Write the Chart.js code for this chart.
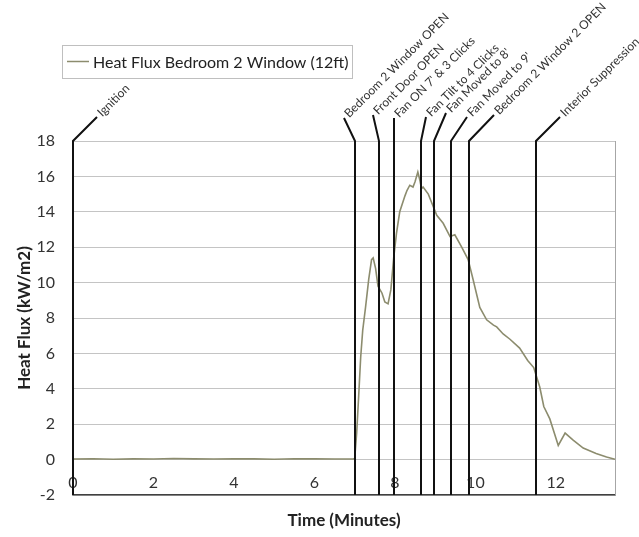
<!DOCTYPE html>
<html>
<head>
<meta charset="utf-8">
<script src="https://cdn.jsdelivr.net/npm/chart.js@4/dist/chart.umd.min.js"></script>
<style>
html,body{margin:0;padding:0;background:#fff;}
#wrap{width:639px;height:537px;position:relative;}
</style>
</head>
<body>
<div id="wrap"><canvas id="c" width="639" height="537"></canvas></div>
<script>
// ---- data ----
const timeMin = [0, 0.5, 1, 1.5, 2, 2.5, 3, 3.5, 4, 4.5, 5, 5.5, 6, 6.5, 6.97,
  7.0, 7.05, 7.1, 7.15, 7.2, 7.27, 7.35, 7.42, 7.46, 7.52, 7.58, 7.68, 7.75, 7.83,
  7.9, 7.97, 8.04, 8.12, 8.25, 8.3, 8.37, 8.45, 8.5, 8.57, 8.62, 8.66, 8.7, 8.83,
  8.9, 9.04, 9.2, 9.37, 9.49, 9.66, 9.82, 9.94, 10.11, 10.28, 10.45, 10.53, 10.69,
  10.86, 11.1, 11.3, 11.45, 11.6, 11.7, 11.85, 12.06, 12.23, 12.43, 12.68, 13.0, 13.26, 13.47];
const heatFlux = [0.03, 0.05, 0.02, 0.04, 0.03, 0.06, 0.04, 0.03, 0.05, 0.04, 0.02, 0.05, 0.04, 0.03, 0.04,
  0.05, 1.5, 3.6, 5.8, 7.3, 8.6, 10.2, 11.3, 11.4, 10.8, 9.8, 9.4, 8.9, 8.8,
  9.6, 11.4, 12.8, 14.0, 14.9, 15.2, 15.5, 15.4, 15.7, 16.25, 15.8, 15.3, 15.4, 15.0,
  14.6, 13.8, 13.35, 12.6, 12.7, 12.0, 11.3, 10.2, 8.6, 7.9, 7.6, 7.5, 7.1,
  6.8, 6.3, 5.6, 5.2, 4.1, 3.0, 2.3, 0.8, 1.5, 1.1, 0.65, 0.35, 0.15, 0.02];
const eventTimes = [0, 7.0, 7.61, 7.98, 8.66, 8.98, 9.39, 9.85, 11.5];
const eventLabels = ['Ignition', 'Bedroom 2 Window OPEN', 'Front Door OPEN', "Fan ON 7' & 3 Clicks",
  'Fan Tilt to 4 Clicks', "Fan Moved to 8'", "Fan Moved to 9'", 'Bedroom 2 Window 2 OPEN', 'Interior Suppression'];
const xTickValues = [0, 2, 4, 6, 8, 10, 12];
const yTickValues = [-2, 0, 2, 4, 6, 8, 10, 12, 14, 16, 18];
const seriesName = 'Heat Flux Bedroom 2 Window (12ft)';
const xTitle = 'Time (Minutes)';
const yTitle = 'Heat Flux (kW/m2)';

const FONT = 'Lato, "Open Sans", sans-serif';

const points = timeMin.map((t, i) => ({x: t, y: heatFlux[i]}));

const eventPlugin = {
  id: 'events',
  beforeDatasetsDraw(chart) {
    const {ctx, chartArea: a} = chart;
    ctx.save();
    ctx.strokeStyle = '#a6a6a6';
    ctx.lineWidth = 1;
    ctx.beginPath();
    ctx.moveTo(a.right + 0.5, a.top);
    ctx.lineTo(a.right + 0.5, a.bottom);
    ctx.stroke();
    ctx.restore();
  },
  afterDatasetsDraw(chart, args, opts) {
    const {ctx, chartArea: a, scales: {x}} = chart;
    ctx.save();
    ctx.strokeStyle = '#111';
    ctx.lineWidth = 2;
    ctx.fillStyle = '#333';
    ctx.font = '12px ' + FONT;
    eventTimes.forEach((t, i) => {
      const px = Math.round(x.getPixelForValue(t));
      const off = opts.leaders[i];
      const ax = px + off[0], ay = a.top + off[1];
      ctx.beginPath();
      ctx.moveTo(px, a.bottom);
      ctx.lineTo(px, a.top);
      ctx.lineTo(ax, ay);
      ctx.stroke();
      ctx.save();
      ctx.translate(ax + 1, ay - 1);
      ctx.rotate(-Math.PI / 4);
      ctx.textAlign = 'left';
      ctx.textBaseline = 'middle';
      ctx.fillText(eventLabels[i], 2, 0);
      ctx.restore();
    });
    ctx.restore();
  },
  afterDraw(chart, args, opts) {
    const {ctx} = chart;
    const ds = chart.data.datasets[0];
    const L = opts.legend;
    ctx.save();
    ctx.strokeStyle = '#bfbfbf';
    ctx.lineWidth = 1;
    ctx.strokeRect(L.x + 0.5, L.y + 0.5, L.w, L.h);
    ctx.strokeStyle = ds.borderColor;
    ctx.lineWidth = 1.5;
    ctx.beginPath();
    ctx.moveTo(L.x + 5, L.y + L.h / 2);
    ctx.lineTo(L.x + 27, L.y + L.h / 2);
    ctx.stroke();
    ctx.fillStyle = '#222';
    ctx.font = '16px ' + FONT;
    ctx.textBaseline = 'middle';
    ctx.fillText(ds.label, L.x + 31, L.y + L.h / 2 + 1);
    ctx.restore();
  }
};

new Chart(document.getElementById('c'), {
  type: 'line',
  data: {
    datasets: [{
      label: seriesName,
      data: points,
      borderColor: '#8c8c6e',
      borderWidth: 1.6,
      pointRadius: 0,
      tension: 0,
      fill: false
    }]
  },
  options: {
    responsive: false,
    animation: false,
    devicePixelRatio: 1,
    layout: {padding: {left: 0, right: 24, top: 141, bottom: 0}},
    plugins: {
      legend: {display: false},
      tooltip: {enabled: false},
      events: {
        leaders: [[24, -24], [-11, -23], [-6, -26], [0, -23], [5, -24], [12, -28], [16, -24], [25, -26], [24, -24]],
        legend: {x: 62, y: 45, w: 290, h: 33}
      }
    },
    scales: {
      x: {
        type: 'linear',
        min: 0,
        max: 13.47,
        afterBuildTicks(s) { s.ticks = xTickValues.map(v => ({value: v})); },
        afterFit(s) { s.height = 42; },
        grid: {display: false, drawTicks: false},
        border: {display: true, color: '#404040', width: 1.5},
        ticks: {mirror: true, padding: 3, color: '#333', font: {family: FONT, size: 16}, maxRotation: 0, includeBounds: false, autoSkip: false},
        title: {display: true, text: xTitle, color: '#222', font: {family: FONT, size: 17, weight: 'bold'}, padding: {top: 0, bottom: 6}}
      },
      y: {
        min: -2,
        max: 18,
        afterBuildTicks(s) { s.ticks = yTickValues.map(v => ({value: v})); },
        afterFit(s) { s.width = 73; },
        grid: {color: '#c4c4c4', lineWidth: 1, drawTicks: false},
        border: {display: false},
        ticks: {padding: 18, color: '#333', font: {family: FONT, size: 16}},
        title: {display: true, text: yTitle, color: '#222', font: {family: FONT, size: 17, weight: 'bold'}, padding: {top: 14, bottom: 0}}
      }
    }
  },
  plugins: [eventPlugin]
});
</script>
</body>
</html>
